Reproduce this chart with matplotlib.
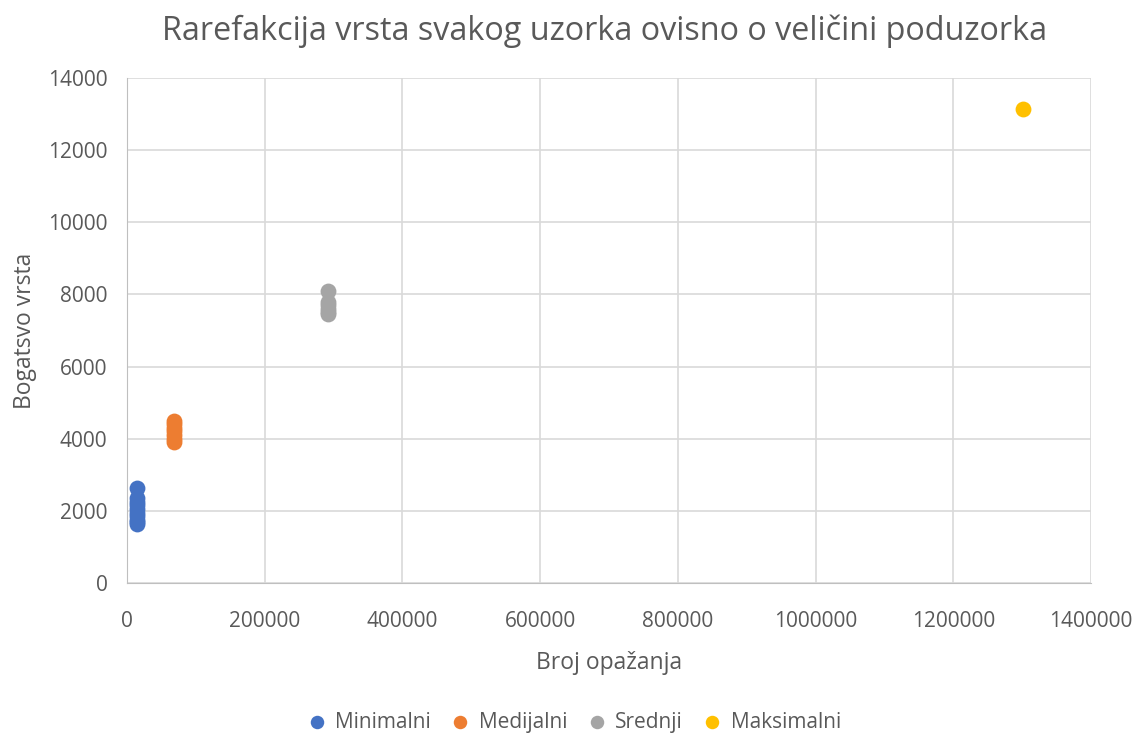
import matplotlib
matplotlib.use("Agg")
import matplotlib.pyplot as plt

plt.rcParams['font.family'] = ['Open Sans', 'DejaVu Sans']

series_names = ["Minimalni", "Medijalni", "Srednji", "Maksimalni"]
colors = ["#4472C4", "#ED7D31", "#A5A5A5", "#FFC000"]
min_x = [14500] * 10
min_y = [2640, 2350, 2250, 2150, 2050, 1950, 1850, 1750, 1680, 1630]
med_x = [68000] * 7
med_y = [4480, 4400, 4300, 4200, 4100, 4000, 3920]
sre_x = [292000] * 6
sre_y = [8100, 7800, 7700, 7600, 7500, 7450]
max_x = [1301000]
max_y = [13140]

xs = [min_x, med_x, sre_x, max_x]
ys = [min_y, med_y, sre_y, max_y]

fig = plt.figure(figsize=(11.37, 7.36), dpi=100)
ax = fig.add_axes([0.1117, 0.2079, 0.9595 - 0.1117, 0.894 - 0.2079])

for name, c, x, y in zip(series_names, colors, xs, ys):
    ax.scatter(x, y, s=130, color=c, label=name, zorder=3, linewidths=0)

ax.set_xlim(0, 1400000)
ax.set_ylim(0, 14000)
ax.set_xticks(range(0, 1400001, 200000))
ax.set_yticks(range(0, 14001, 2000))
ax.set_xticklabels([str(v) for v in range(0, 1400001, 200000)])
ax.set_yticklabels([str(v) for v in range(0, 14001, 2000)])
ax.grid(True, color="#D9D9D9", linewidth=1.2, zorder=0)
for s in ["top", "right"]:
    ax.spines[s].set_visible(False)
ax.spines["left"].set_color("#BFBFBF")
ax.spines["bottom"].set_color("#BFBFBF")
ax.tick_params(axis='y', length=0, labelsize=15, labelcolor="#595959", pad=14)
ax.tick_params(axis='x', length=0, labelsize=15, labelcolor="#595959", pad=20)

ax.set_xlabel("Broj opažanja", fontsize=16.5, color="#595959", labelpad=14)
ax.set_ylabel("Bogatsvo vrsta", fontsize=16.5, color="#595959", labelpad=8)
fig.text(0.532, 0.958, "Rarefakcija vrsta svakog uzorka ovisno o veličini poduzorka",
         fontsize=23.3, color="#595959", ha="center", va="center")

fig.legend(loc="center", bbox_to_anchor=(0.5, 0.019), ncol=4, frameon=False,
           fontsize=15, labelcolor="#595959", handletextpad=-0.1, columnspacing=0.4,
           markerscale=0.85)

fig.savefig("out.png", dpi=100)
